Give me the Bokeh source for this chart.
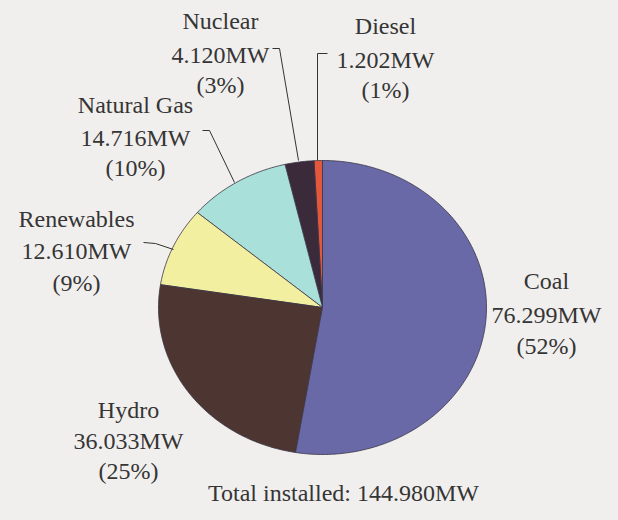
import numpy as np
from bokeh.plotting import figure
from bokeh.models import Range1d, ColumnDataSource
from bokeh.core.properties import value
from bokeh.embed import file_html
from bokeh.resources import INLINE

# ---- data ----
sources = ["Diesel", "Nuclear", "Natural Gas", "Renewables", "Hydro", "Coal"]
capacity_mw = [1.202, 4.120, 14.716, 12.610, 36.033, 76.299]
pct_labels = ["(1%)", "(3%)", "(10%)", "(9%)", "(25%)", "(52%)"]
total_mw = 144.980

colors = ["#e3573c", "#3b2a3a", "#a9e0da", "#f2efa0", "#4d3532", "#6a69a8"]

# ---- layout (image pixel coords, y measured downward) ----
W, H = 602, 504
def Y(img_y):
    return H - img_y

cx, cy, RX, RY = 322, 307, 164, 147   # pie (scan is slightly stretched)

p = figure(width=W, height=H, output_backend="svg", toolbar_location=None,
           x_range=Range1d(0, W), y_range=Range1d(0, H),
           min_border=0, outline_line_color=None,
           background_fill_color="#f1efed", border_fill_color="#f1efed")
p.axis.visible = False
p.grid.visible = False

vals = np.array(capacity_mw)
frac = vals / vals.sum()
bounds = np.pi / 2 + 2 * np.pi * np.concatenate([[0], np.cumsum(frac)])
xs, ys = [], []
for a0, a1 in zip(bounds[:-1], bounds[1:]):
    t = np.linspace(a0, a1, max(8, int((a1 - a0) * 60)))
    xs.append(np.concatenate([[cx], cx + RX * np.cos(t)]).tolist())
    ys.append(np.concatenate([[Y(cy)], Y(cy) + RY * np.sin(t)]).tolist())

src = ColumnDataSource(dict(xs=xs, ys=ys, color=colors, name=sources))
p.patches(xs="xs", ys="ys", fill_color="color", line_color="#3a3545",
          line_width=0.8, source=src)

# labels: x centre and line-middle y positions
label_pos = {
    "Diesel": (385, [25, 59, 89]),
    "Nuclear": (220, [20, 54, 84]),
    "Natural Gas": (135, [104, 137, 167]),
    "Renewables": (76, [218, 250, 282]),
    "Hydro": (128, [409, 440, 470]),
    "Coal": (546, [280, 314, 345]),
}
font = value("Liberation Serif")
for name, mw, pct in zip(sources, capacity_mw, pct_labels):
    x, yy = label_pos[name]
    lines = [name, f"{mw:.3f}MW", pct]
    p.text(x=[x] * 3, y=[Y(v) for v in yy], text=lines,
           text_font=font, text_font_size="24px", text_color="#353535",
           text_align="center", text_baseline="middle")

p.text(x=[343], y=[Y(492)], text=[f"Total installed: {total_mw:.3f}MW"],
       text_font=font, text_font_size="24px", text_color="#353535",
       text_align="center", text_baseline="middle")

# leader lines
leaders = [
    ([327, 317, 317], [53, 53, 160]),
    ([272, 279, 298], [48, 48, 160]),
    ([202, 209, 234], [130, 130, 182]),
    ([143, 155, 173], [242, 243, 249]),
]
for lx, ly in leaders:
    p.line(x=lx, y=[Y(v) for v in ly], line_color="#333333", line_width=1)

html = file_html(p, INLINE)
html = html.replace("<head>", "<head><style>body{background:#f1efed;}</style>", 1)
open("out.html", "w").write(html)
